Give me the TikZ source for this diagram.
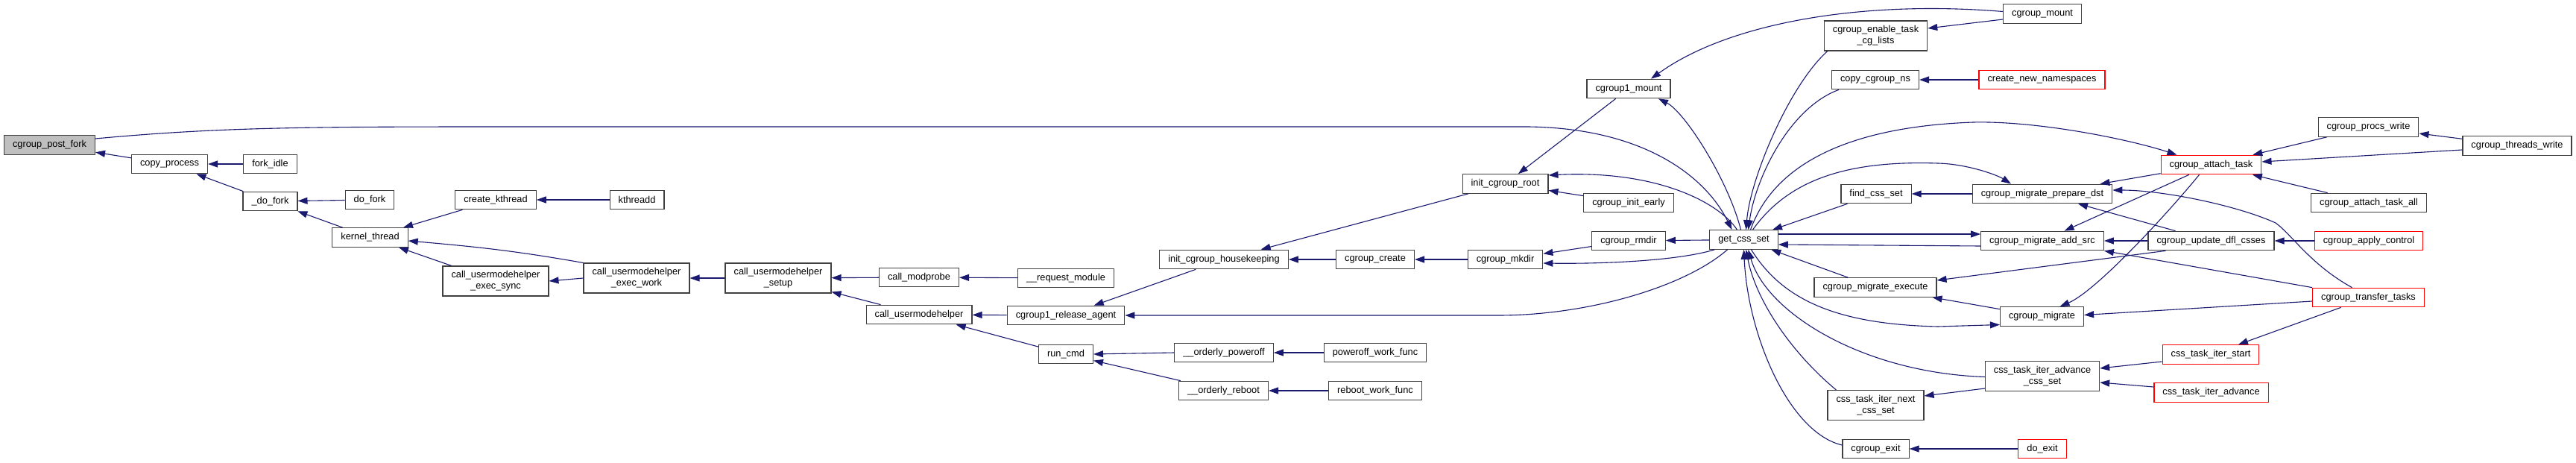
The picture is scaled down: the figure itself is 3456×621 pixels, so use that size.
\documentclass[tikz,border=0pt]{standalone}
\usepackage{fontspec}
\setmainfont{Liberation Sans}
\usetikzlibrary{arrows.meta}
\definecolor{edgeblue}{RGB}{25,25,112}
\definecolor{focusgray}{RGB}{191,191,191}

\begin{document}
\begin{tikzpicture}[
        x=1pt, y=1pt,
        box/.style={rectangle, draw=black!75, line width=1.2pt, fill=white, inner xsep=11.5pt, inner ysep=6.5pt, minimum height=25.5pt, align=center, font=\fontsize{12.8}{15}\selectfont},
        focusbox/.style={box, fill=focusgray},
        redbox/.style={box, draw=red},
        arrow/.style={-{Triangle[length=13pt,width=9pt]}, edgeblue, line width=1.1pt}
        ]
        \useasboundingbox (0,0) rectangle (3456,-621);

        % Nodes
        \node[focusbox] (postfork) at (66.5,-194.5) {cgroup\_post\_fork};
        \node[box] (copyproc) at (227.5,-220) {copy\_process};
        \node[box] (forkidle) at (362.5,-220) {fork\_idle};
        \node[box] (udofork) at (362.5,-270) {\_do\_fork};
        \node[box] (dofork) at (496,-268) {do\_fork};
        \node[box] (kthread) at (496.5,-318.5) {kernel\_thread};
        \node[box] (createkt) at (665,-268) {create\_kthread};
        \node[box] (kthreadd) at (854.5,-268) {kthreadd};
        \node[box] (execsync) at (665,-377) {call\_usermodehelper\\\_exec\_sync};
        \node[box] (execwork) at (854,-373) {call\_usermodehelper\\\_exec\_work};
        \node[box] (umhsetup) at (1044,-373) {call\_usermodehelper\\\_setup};
        \node[box] (modprobe) at (1233,-372) {call\_modprobe};
        \node[box] (umh) at (1233,-422) {call\_usermodehelper};
        \node[box] (reqmod) at (1430,-373) {\_\_request\_module};
        \node[box] (relagent) at (1430,-423) {cgroup1\_release\_agent};
        \node[box] (runcmd) at (1430,-475) {run\_cmd};
        \node[box] (housekeep) at (1642,-348) {init\_cgroup\_housekeeping};
        \node[box] (poweroff) at (1642,-473) {\_\_orderly\_poweroff};
        \node[box] (reboot) at (1641.5,-524) {\_\_orderly\_reboot};
        \node[box] (cgcreate) at (1845,-348) {cgroup\_create};
        \node[box] (poweroffwf) at (1845,-473) {poweroff\_work\_func};
        \node[box] (rebootwf) at (1845,-524) {reboot\_work\_func};
        \node[box] (initroot) at (2019.5,-246.5) {init\_cgroup\_root};
        \node[box] (cgmkdir) at (2019.5,-348) {cgroup\_mkdir};
        \node[box] (v1mount) at (2185,-119) {cgroup1\_mount};
        \node[box] (initearly) at (2185,-272) {cgroup\_init\_early};
        \node[box] (cgrmdir) at (2185,-323) {cgroup\_rmdir};
        \node[box] (getcss) at (2339.5,-321.5) {get\_css\_set};
        \node[box] (enablelists) at (2516.5,-48) {cgroup\_enable\_task\\\_cg\_lists};
        \node[box] (copyns) at (2516,-107) {copy\_cgroup\_ns};
        \node[box] (findcss) at (2517,-260) {find\_css\_set};
        \node[box] (migexec) at (2516,-385.5) {cgroup\_migrate\_execute};
        \node[box] (iternext) at (2516.5,-543.5) {css\_task\_iter\_next\\\_css\_set};
        \node[box] (cgexit) at (2516.5,-602) {cgroup\_exit};
        \node[box] (cgmount) at (2740,-18.5) {cgroup\_mount};
        \node[redbox] (newns) at (2739.5,-107) {create\_new\_namespaces};
        \node[box] (prepdst) at (2740,-260) {cgroup\_migrate\_prepare\_dst};
        \node[box] (addsrc) at (2740,-323) {cgroup\_migrate\_add\_src};
        \node[box] (migrate) at (2739.5,-424.5) {cgroup\_migrate};
        \node[box] (iteradv) at (2740,-504.5) {css\_task\_iter\_advance\\\_css\_set};
        \node[redbox] (doexit) at (2740,-602) {do\_exit};
        \node[redbox] (attach) at (2966.5,-221) {cgroup\_attach\_task};
        \node[box] (updatedfl) at (2966.5,-323) {cgroup\_update\_dfl\_csses};
        \node[redbox] (iterstart) at (2966,-475.5) {css\_task\_iter\_start};
        \node[redbox] (iteradvance) at (2966.5,-526.5) {css\_task\_iter\_advance};
        \node[box] (procswrite) at (3177.5,-170.5) {cgroup\_procs\_write};
        \node[box] (attachall) at (3178,-272) {cgroup\_attach\_task\_all};
        \node[redbox] (applyctl) at (3178,-323) {cgroup\_apply\_control};
        \node[redbox] (transfer) at (3177.5,-399) {cgroup\_transfer\_tasks};
        \node[box] (threadswrite) at (3377,-195.5) {cgroup\_threads\_write};

        % Arrows
        \draw[arrow] (copyproc) -- (postfork);
        \draw[arrow] (forkidle) -- (copyproc);
        \draw[arrow] (udofork) -- (copyproc);
        \draw[arrow] (dofork) -- (udofork);
        \draw[arrow] (kthread) -- (udofork);
        \draw[arrow] (createkt) -- (kthread);
        \draw[arrow] (kthreadd) -- (createkt);
        \draw[arrow] (execsync) -- (kthread);
        \draw[arrow] (execwork.north west) to[out=170, in=-5] ([yshift=-4.5pt]kthread.east);
        \draw[arrow] (execwork.west) -- (execsync.east);
        \draw[arrow] (umhsetup) -- (execwork);
        \draw[arrow] (modprobe) -- (umhsetup);
        \draw[arrow] (umh) -- (umhsetup);
        \draw[arrow] (reqmod) -- (modprobe);
        \draw[arrow] (relagent) -- (umh);
        \draw[arrow] (runcmd) -- (umh);
        \draw[arrow] (housekeep) -- (relagent);
        \draw[arrow] (poweroff.west) -- (runcmd.east);
        \draw[arrow] (reboot) -- (runcmd);
        \draw[arrow] (poweroffwf) -- (poweroff);
        \draw[arrow] (rebootwf) -- (reboot);
        \draw[arrow] (initroot) -- (housekeep);
        \draw[arrow] (cgcreate) -- (housekeep);
        \draw[arrow] (cgmkdir) -- (cgcreate);
        \draw[arrow] (v1mount) -- (initroot);
        \draw[arrow] (initearly) -- (initroot);
        \draw[arrow] (cgrmdir) -- (cgmkdir);
        \draw[arrow] (getcss) -- (cgrmdir);
        \draw[arrow] ([yshift=8.5pt]postfork.east) .. controls (300,-170) and (420,-170) .. (700,-170) -- (2050,-170) .. controls (2210,-172) and (2290,-240) .. ([xshift=-16pt]getcss.north);
        \draw[arrow] ([xshift=-9pt]getcss.north) .. controls (2305,-270) and (2220,-228) .. ([yshift=11.5pt]initroot.east);
        \draw[arrow] ([xshift=-4pt]getcss.north) .. controls (2318,-240) and (2260,-150) .. ([xshift=40pt]v1mount.south);
        \draw[arrow] ([yshift=3pt]cgmount.west) .. controls (2500,0) and (2320,-30) .. ([xshift=30pt]v1mount.north);
        \draw[arrow] ([xshift=7pt]getcss.south west) .. controls (2250,-350) and (2150,-354) .. ([yshift=-5pt]cgmkdir.east);
        \draw[arrow] ([xshift=-22pt]getcss.south) .. controls (2260,-385) and (2130,-423) .. (2010,-423) -- (relagent.east);
        \draw[arrow] ([xshift=5pt]enablelists.south west) .. controls (2400,-115) and (2348,-240) .. ([xshift=3pt]getcss.north);
        \draw[arrow] ([xshift=10pt]copyns.south west) .. controls (2400,-145) and (2355,-240) .. ([xshift=6pt]getcss.north);
        \draw[arrow] ([xshift=9pt]getcss.north) .. controls (2380,-220) and (2480,-170) .. (2647,-164) .. controls (2730,-162) and (2850,-185) .. ([xshift=-46pt]attach.north);
        \draw[arrow] ([xshift=12pt]getcss.north) .. controls (2400,-240) and (2480,-215) .. (2600,-219) .. controls (2640,-220) and (2680,-235) .. ([xshift=-42pt]prepdst.north);
        \draw[arrow] (findcss) -- (getcss);
        \draw[arrow] ([yshift=7.5pt]getcss.east) -- ([yshift=9pt]addsrc.west);
        \draw[arrow] ([yshift=-7pt]addsrc.west) -- ([yshift=-6.5pt]getcss.east);
        \draw[arrow] (migexec) -- (getcss);
        \draw[arrow] ([xshift=10pt]getcss.south) .. controls (2390,-400) and (2460,-435) .. (2600,-438) -- ([yshift=-11pt]migrate.west);
        \draw[arrow] ([yshift=-1pt]iteradv.west) .. controls (2500,-500) and (2370,-420) .. ([xshift=6pt]getcss.south);
        \draw[arrow] ([xshift=12pt]iternext.north west) .. controls (2400,-470) and (2355,-400) .. ([xshift=3pt]getcss.south);
        \draw[arrow] ([yshift=5pt]cgexit.west) .. controls (2400,-580) and (2345,-450) .. (getcss.south);
        \draw[arrow] ([yshift=-7.5pt]cgmount.west) -- ([yshift=10pt]enablelists.east);
        \draw[arrow] (newns) -- (copyns);
        \draw[arrow] (prepdst) -- (findcss);
        \draw[arrow] (attach) -- (prepdst);
        \draw[arrow] (attach) -- (addsrc);
        \draw[arrow] ([xshift=-16pt]attach.south) .. controls (2910,-284) and (2813,-390) .. ([xshift=24pt]migrate.north);
        \draw[arrow] (updatedfl) -- (prepdst);
        \draw[arrow] (updatedfl) -- (addsrc);
        \draw[arrow] ([xshift=24pt]updatedfl.south west) -- ([yshift=9.5pt]migexec.east);
        \draw[arrow] (migrate) -- (migexec);
        \draw[arrow] ([xshift=-22pt]transfer.north) .. controls (3100,-355) and (3075,-315) .. (3053,-299) .. controls (3000,-275) and (2900,-255) .. ([yshift=5pt]prepdst.east);
        \draw[arrow] (transfer.north west) -- (addsrc.south east);
        \draw[arrow] ([yshift=-5pt]transfer.west) -- ([yshift=2pt]migrate.east);
        \draw[arrow] (transfer) -- (iterstart);
        \draw[arrow] ([yshift=-16.5pt]iteradv.west) -- ([yshift=12.5pt]iternext.east);
        \draw[arrow] ([yshift=-9.5pt]iterstart.west) -- ([yshift=10.5pt]iteradv.east);
        \draw[arrow] ([yshift=7.5pt]iteradvance.west) -- ([yshift=-8.5pt]iteradv.east);
        \draw[arrow] (doexit) -- (cgexit);
        \draw[arrow] (procswrite) -- (attach);
        \draw[arrow] (threadswrite) -- (procswrite);
        \draw[arrow] ([yshift=-5.5pt]threadswrite.west) -- ([yshift=4pt]attach.east);
        \draw[arrow] (attachall) -- (attach);
        \draw[arrow] (applyctl) -- (updatedfl);

    \end{tikzpicture}
\end{document}
